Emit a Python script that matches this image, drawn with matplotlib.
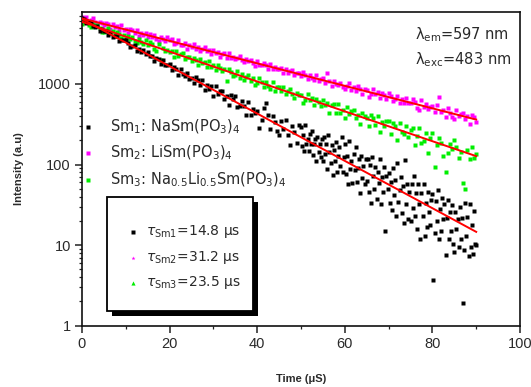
import matplotlib
matplotlib.use("Agg")
import matplotlib.pyplot as plt
from matplotlib.patches import Rectangle
from matplotlib.lines import Line2D
from matplotlib.ticker import FixedLocator, FuncFormatter, LogLocator, NullFormatter, MultipleLocator

plt.rcParams['font.family'] = ['Liberation Sans', 'DejaVu Sans']
plt.rcParams['mathtext.fontset'] = 'dejavusans'

# ---------------- data ----------------
# Sm2 and Sm3 sampled every 0.5 us
time_us = [
    0.0, 0.5, 1.0, 1.5, 2.0, 2.5, 3.0, 3.5, 4.0, 4.5,
    5.0, 5.5, 6.0, 6.5, 7.0, 7.5, 8.0, 8.5, 9.0, 9.5,
    10.0, 10.5, 11.0, 11.5, 12.0, 12.5, 13.0, 13.5, 14.0, 14.5,
    15.0, 15.5, 16.0, 16.5, 17.0, 17.5, 18.0, 18.5, 19.0, 19.5,
    20.0, 20.5, 21.0, 21.5, 22.0, 22.5, 23.0, 23.5, 24.0, 24.5,
    25.0, 25.5, 26.0, 26.5, 27.0, 27.5, 28.0, 28.5, 29.0, 29.5,
    30.0, 30.5, 31.0, 31.5, 32.0, 32.5, 33.0, 33.5, 34.0, 34.5,
    35.0, 35.5, 36.0, 36.5, 37.0, 37.5, 38.0, 38.5, 39.0, 39.5,
    40.0, 40.5, 41.0, 41.5, 42.0, 42.5, 43.0, 43.5, 44.0, 44.5,
    45.0, 45.5, 46.0, 46.5, 47.0, 47.5, 48.0, 48.5, 49.0, 49.5,
    50.0, 50.5, 51.0, 51.5, 52.0, 52.5, 53.0, 53.5, 54.0, 54.5,
    55.0, 55.5, 56.0, 56.5, 57.0, 57.5, 58.0, 58.5, 59.0, 59.5,
    60.0, 60.5, 61.0, 61.5, 62.0, 62.5, 63.0, 63.5, 64.0, 64.5,
    65.0, 65.5, 66.0, 66.5, 67.0, 67.5, 68.0, 68.5, 69.0, 69.5,
    70.0, 70.5, 71.0, 71.5, 72.0, 72.5, 73.0, 73.5, 74.0, 74.5,
    75.0, 75.5, 76.0, 76.5, 77.0, 77.5, 78.0, 78.5, 79.0, 79.5,
    80.0, 80.5, 81.0, 81.5, 82.0, 82.5, 83.0, 83.5, 84.0, 84.5,
    85.0, 85.5, 86.0, 86.5, 87.0, 87.5, 88.0, 88.5, 89.0, 89.5,
    90.0,
]

sm2_intensity = [
    6760, 6205, 6673, 5885, 6158, 6480, 5787, 5404, 5891, 5628,
    5316, 5721, 5470, 4855, 5558, 5060, 5181, 4653, 5309, 4650,
    4764, 4317, 4842, 4631, 4248, 4702, 3899, 4301, 4067, 4288,
    3778, 4113, 3853, 4099, 3657, 3413, 3834, 3629, 3359, 3793,
    3527, 3572, 3084, 3263, 3469, 3035, 3048, 3214, 2741, 3024,
    2859, 3129, 2684, 2891, 2572, 2720, 2836, 2530, 2643, 2324,
    2634, 2421, 2479, 2155, 2378, 2409, 2122, 2400, 2099, 2151,
    2011, 2125, 2214, 1957, 1847, 2032, 1923, 2007, 1826, 1668,
    1929, 1703, 1711, 1804, 1708, 1531, 1785, 1531, 1634, 1545,
    1536, 1557, 1369, 1552, 1383, 1446, 1493, 1291, 1365, 1383,
    1270, 1391, 1281, 1161, 1289, 1184, 1130, 1275, 1083, 1156,
    1171, 1031, 1350, 1084, 952, 1101, 1003, 967, 1040, 926,
    855, 944, 1040, 851, 927, 816, 932, 874, 744, 856,
    833, 693, 753, 856, 751, 792, 676, 774, 719, 651,
    765, 698, 614, 650, 698, 572, 651, 579, 667, 579,
    575, 642, 597, 509, 474, 629, 512, 562, 490, 518,
    535, 448, 547, 680, 446, 480, 390, 496, 440, 385,
    366, 473, 396, 426, 436, 365, 395, 320, 416, 384,
    340,
]

sm3_intensity = [
    5605, 5892, 6107, 5369, 5040, 5517, 5194, 5389, 4877, 4434,
    4435, 4715, 4982, 4295, 4511, 4074, 4450, 4191, 3701, 4056,
    3624, 3925, 3658, 3870, 3435, 3189, 3564, 3355, 3089, 3469,
    3079, 3270, 3093, 2748, 2587, 3105, 2000, 2814, 2534, 2604,
    2519, 2555, 2182, 2533, 2203, 2319, 2403, 2015, 2151, 2180,
    1930, 2123, 2002, 1711, 2040, 1807, 1862, 1617, 1919, 1615,
    1732, 1506, 1722, 1564, 1453, 1518, 1100, 1529, 1389, 1253,
    1293, 1466, 1190, 1318, 1119, 1213, 1286, 1098, 1169, 975,
    1027, 1178, 1045, 903, 1061, 938, 875, 1052, 825, 915,
    921, 813, 908, 754, 810, 875, 742, 670, 766, 718,
    727, 583, 640, 750, 635, 675, 549, 658, 603, 532,
    636, 545, 577, 437, 543, 562, 440, 567, 441, 469,
    378, 518, 421, 459, 468, 377, 413, 317, 438, 396,
    380, 300, 409, 374, 307, 401, 253, 336, 298, 344,
    345, 241, 323, 298, 201, 327, 256, 236, 299, 218,
    267, 287, 175, 227, 284, 187, 198, 246, 140, 214,
    244, 93, 175, 216, 186, 127, 81, 139, 182, 156,
    202, 166, 119, 143, 59, 49, 153, 117, 166, 121,
    134,
]

# Sm1 sampled every 0.5 us up to 50 us, then every 0.25 us
time_sm1_us = [
    0.0, 0.5, 1.0, 1.5, 2.0, 2.5, 3.0, 3.5, 4.0, 4.5,
    5.0, 5.5, 6.0, 6.5, 7.0, 7.5, 8.0, 8.5, 9.0, 9.5,
    10.0, 10.5, 11.0, 11.5, 12.0, 12.5, 13.0, 13.5, 14.0, 14.5,
    15.0, 15.5, 16.0, 16.5, 17.0, 17.5, 18.0, 18.5, 19.0, 19.5,
    20.0, 20.5, 21.0, 21.5, 22.0, 22.5, 23.0, 23.5, 24.0, 24.5,
    25.0, 25.5, 26.0, 26.5, 27.0, 27.5, 28.0, 28.5, 29.0, 29.5,
    30.0, 30.5, 31.0, 31.5, 32.0, 32.5, 33.0, 33.5, 34.0, 34.5,
    35.0, 35.5, 36.0, 36.5, 37.0, 37.5, 38.0, 38.5, 39.0, 39.5,
    40.0, 40.5, 41.0, 41.5, 42.0, 42.5, 43.0, 43.5, 44.0, 44.5,
    45.0, 45.5, 46.0, 46.5, 47.0, 47.5, 48.0, 48.5, 49.0, 49.5,
    50.0, 50.25, 50.5, 50.75, 51.0, 51.25, 51.5, 51.75, 52.0, 52.25,
    52.5, 52.75, 53.0, 53.25, 53.5, 53.75, 54.0, 54.25, 54.5, 54.75,
    55.0, 55.25, 55.5, 55.75, 56.0, 56.25, 56.5, 56.75, 57.0, 57.25,
    57.5, 57.75, 58.0, 58.25, 58.5, 58.75, 59.0, 59.25, 59.5, 59.75,
    60.0, 60.25, 60.5, 60.75, 61.0, 61.25, 61.5, 61.75, 62.0, 62.25,
    62.5, 62.75, 63.0, 63.25, 63.5, 63.75, 64.0, 64.25, 64.5, 64.75,
    65.0, 65.25, 65.5, 65.75, 66.0, 66.25, 66.5, 66.75, 67.0, 67.25,
    67.5, 67.75, 68.0, 68.25, 68.5, 68.75, 69.0, 69.25, 69.5, 69.75,
    70.0, 70.25, 70.5, 70.75, 71.0, 71.25, 71.5, 71.75, 72.0, 72.25,
    72.5, 72.75, 73.0, 73.25, 73.5, 73.75, 74.0, 74.25, 74.5, 74.75,
    75.0, 75.25, 75.5, 75.75, 76.0, 76.25, 76.5, 76.75, 77.0, 77.25,
    77.5, 77.75, 78.0, 78.25, 78.5, 78.75, 79.0, 79.25, 79.5, 79.75,
    80.0, 80.25, 80.5, 80.75, 81.0, 81.25, 81.5, 81.75, 82.0, 82.25,
    82.5, 82.75, 83.0, 83.25, 83.5, 83.75, 84.0, 84.25, 84.5, 84.75,
    85.0, 85.25, 85.5, 85.75, 86.0, 86.25, 86.5, 86.75, 87.0, 87.25,
    87.5, 87.75, 88.0, 88.25, 88.5, 88.75, 89.0, 89.25, 89.5, 89.75,
    90.0,
]

sm1_intensity = [
    6534, 6448, 5689, 5783, 5904, 5250, 5153, 5229, 4574, 4788,
    4565, 4519, 3994, 4323, 3860, 3918, 3936, 3431, 3512, 3476,
    3490, 3205, 2879, 2916, 2998, 2577, 2731, 2481, 2641, 2360,
    2462, 2224, 2236, 1910, 2070, 2060, 1783, 1981, 1702, 1714,
    1756, 1487, 1623, 1533, 1292, 1518, 1337, 1261, 1356, 1164,
    1200, 1023, 1204, 1116, 971, 1118, 835, 961, 875, 937,
    708, 929, 756, 808, 810, 655, 702, 545, 720, 647,
    706, 523, 534, 611, 538, 406, 601, 415, 493, 432,
    460, 284, 359, 497, 575, 413, 276, 398, 338, 262,
    233, 343, 275, 355, 235, 176, 300, 252, 187, 307,
    294, 172, 232, 145, 306, 180, 207, 145, 238, 178,
    258, 130, 178, 210, 112, 220, 141, 180, 125, 206,
    109, 222, 136, 178, 87, 229, 141, 104, 177, 74,
    152, 110, 191, 81, 129, 163, 95, 217, 81, 125,
    178, 76, 129, 58, 197, 87, 110, 59, 136, 86,
    164, 60, 91, 116, 44, 129, 68, 96, 57, 117,
    63, 117, 46, 98, 33, 123, 71, 49, 93, 37,
    80, 59, 116, 32, 69, 46, 93, 15, 73, 49,
    79, 33, 60, 27, 90, 42, 64, 23, 104, 34,
    48, 70, 25, 54, 19, 114, 32, 57, 21, 45,
    20, 57, 29, 73, 23, 44, 16, 57, 32, 12,
    44, 23, 58, 13, 33, 17, 46, 26, 18, 36,
    43, 3.7, 14, 35, 20, 48, 12, 28, 15, 38,
    21, 32, 7.5, 22, 36, 12, 26, 15, 31, 10.4,
    8.2, 26, 16, 21, 9.6, 30, 12, 22, 1.9, 8.8,
    33, 12.8, 22.5, 7.4, 32, 9.5, 18, 7.7, 26.4, 10.4,
    10,
]

# single-exponential fits (straight lines on the log axis)
fit_time = [0, 90]
fit_sm1 = [6400, 14.6]
fit_sm2 = [6500, 361]
fit_sm3 = [5900, 127]

series_labels = [
    r'Sm$_1$: NaSm(PO$_3$)$_4$',
    r'Sm$_2$: LiSm(PO$_3$)$_4$',
    r'Sm$_3$: Na$_{0.5}$Li$_{0.5}$Sm(PO$_3$)$_4$',
]
tau_labels = [
    r'$\tau_{\mathrm{Sm1}}$=14.8 μs',
    r'$\tau_{\mathrm{Sm2}}$=31.2 μs',
    r'$\tau_{\mathrm{Sm3}}$=23.5 μs',
]
colors = ['#000000', '#FF00FF', '#00EE00']
txt_color = '#2a2a2a'

# ---------------- figure ----------------
fig = plt.figure(figsize=(5.31, 3.87), dpi=100)
ax = fig.add_axes([82/531, 1-325.7/387, 438/531, 313.7/387])

ax.plot(time_us, sm2_intensity, ls='none', marker='s', ms=2.6, mec='none', mfc=colors[1], zorder=2)
ax.plot(time_us, sm3_intensity, ls='none', marker='s', ms=2.6, mec='none', mfc=colors[2], zorder=2)
ax.plot(time_sm1_us, sm1_intensity, ls='none', marker='s', ms=3.0, mec='none', mfc=colors[0], zorder=2)

for fv in (fit_sm1, fit_sm2, fit_sm3):
    ax.plot(fit_time, fv, color='#FF0000', lw=1.4, zorder=3)

ax.set_yscale('log')
ax.set_xlim(0, 100)
ax.set_ylim(1, 7800)

ax.xaxis.set_major_locator(MultipleLocator(20))
ax.xaxis.set_minor_locator(MultipleLocator(10))
ax.yaxis.set_major_locator(FixedLocator([1, 10, 100, 1000]))
ax.yaxis.set_minor_locator(LogLocator(base=10, subs=range(2, 10)))
ax.yaxis.set_minor_formatter(NullFormatter())
ax.yaxis.set_major_formatter(FuncFormatter(lambda v, p: f'{int(round(v))}'))

ax.tick_params(which='major', direction='out', length=5, width=1.1, labelsize=10.5, pad=3,
               colors='#222222', labelcolor=txt_color)
ax.tick_params(which='minor', direction='out', length=2.5, width=0.9, colors='#222222')
for sp in ax.spines.values():
    sp.set_linewidth(1.2)
    sp.set_color('#111111')

ax.set_xlabel('Time (μS)', fontsize=8, fontweight='bold', labelpad=17, color=txt_color)
ax.set_ylabel('Intensity (a.u)', fontsize=8, fontweight='bold', labelpad=10, color=txt_color)

lab_font = dict(family='DejaVu Sans', color=txt_color)

# top-right annotation
ax.text(0.760, 0.927, r'λ$_{\mathrm{em}}$=597 nm', transform=ax.transAxes, fontsize=10.5, va='center', **lab_font)
ax.text(0.760, 0.847, r'λ$_{\mathrm{exc}}$=483 nm', transform=ax.transAxes, fontsize=10.5, va='center', **lab_font)

# legend 1 (frameless)
leg1_y = [0.633, 0.551, 0.465]
for c, lab, yy in zip(colors, series_labels, leg1_y):
    ax.add_line(Line2D([0.014], [yy], transform=ax.transAxes, ls='none', marker='s',
                       ms=2.8 if c == '#000000' else 2.5, mec='none', mfc=c))
    ax.text(0.064, yy, lab, transform=ax.transAxes, fontsize=10.5, va='center', **lab_font)

# legend 2 (boxed with shadow)
bx0, bx1, by0, by1 = 0.057, 0.390, 0.048, 0.411
ax.add_patch(Rectangle((bx0 + 0.0114, by0 - 0.016), bx1 - bx0, by1 - by0, transform=ax.transAxes,
                       facecolor='black', edgecolor='none', zorder=4))
ax.add_patch(Rectangle((bx0, by0), bx1 - bx0, by1 - by0, transform=ax.transAxes,
                       facecolor='white', edgecolor='black', lw=1.3, zorder=5))
leg2_y = [0.299, 0.217, 0.137]
leg2_markers = ['s', '*', '^']
for c, m, lab, yy in zip(colors, leg2_markers, tau_labels, leg2_y):
    ax.add_line(Line2D([0.116], [yy], transform=ax.transAxes, ls='none', marker=m,
                       ms=3, mec='none', mfc=c, zorder=6))
    ax.text(0.146, yy, lab, transform=ax.transAxes, fontsize=10, va='center', zorder=6, **lab_font)

fig.savefig('out.png', dpi=100)
